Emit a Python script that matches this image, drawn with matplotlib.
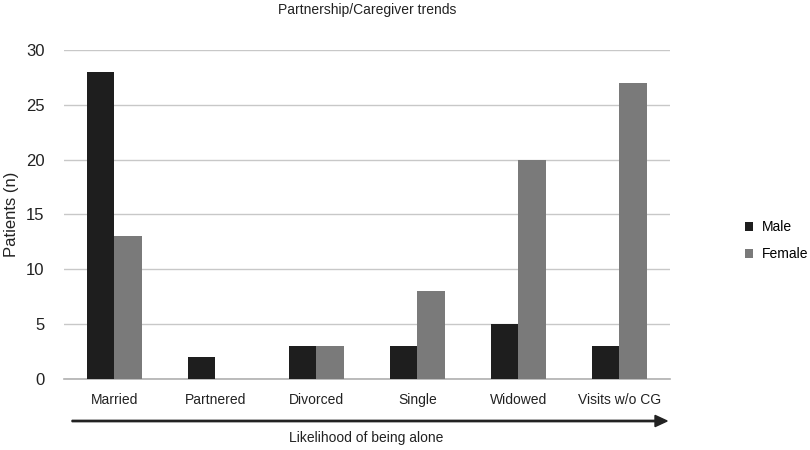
import numpy as np
import matplotlib
matplotlib.use('Agg')
import matplotlib.pyplot as plt

plt.rcParams['font.family'] = ['Liberation Sans', 'DejaVu Sans']

categories = ['Married', 'Partnered', 'Divorced', 'Single', 'Widowed', 'Visits w/o CG']
male = [28, 2, 3, 3, 5, 3]
female = [13, 0, 3, 8, 20, 27]
yticks = [0, 5, 10, 15, 20, 25, 30]

fig = plt.figure(figsize=(8.1, 4.5), dpi=100)
ax = fig.add_axes([0.079, 0.158, 0.748, 0.731])

x = np.arange(len(categories))
w = 0.27
ax.bar(x - w / 2, male, w, color='#1e1e1e', label='Male', zorder=3)
ax.bar(x + w / 2, female, w, color='#7a7a7a', label='Female', zorder=3)

ax.set_xlim(-0.5, len(categories) - 0.5)
ax.set_ylim(0, 30)
ax.set_yticks(yticks)
ax.set_yticklabels([str(v) for v in yticks], fontsize=12, color='#222222')
ax.set_xticks(x)
ax.set_xticklabels(categories, fontsize=10, color='#222222')
ax.tick_params(axis='both', length=0)
ax.tick_params(axis='y', pad=14)
ax.tick_params(axis='x', pad=10)
ax.yaxis.grid(True, color='#c8c8c8', linewidth=1, zorder=0)
for s in ['top', 'right', 'left']:
    ax.spines[s].set_visible(False)
ax.spines['bottom'].set_color('#b0b0b0')
ax.spines['bottom'].set_linewidth(1.2)

ax.set_ylabel('Patients (n)', fontsize=12, color='#222222')
ax.yaxis.set_label_coords(-0.074, 0.5)
ax.set_title('Partnership/Caregiver trends', fontsize=10, color='#222222', pad=26)

# arrow under the categories
fig.patches.append(matplotlib.patches.FancyArrow(
    72 / 810, 1 - 421 / 450, (655 - 72) / 810, 0, width=0.003,
    head_width=0.025, head_length=0.015, length_includes_head=False,
    color='#222222', transform=fig.transFigure, figure=fig))
fig.text(0.452, 1 - 438 / 450, 'Likelihood of being alone', ha='center', va='center',
         fontsize=10, color='#222222')

ax.legend(loc='center left', bbox_to_anchor=(1.11, 0.42), frameon=False, fontsize=10,
          handlelength=0.6, handleheight=0.6, labelspacing=0.9, handletextpad=0.6,
          borderaxespad=0.2)

plt.savefig('out.png', dpi=100)
